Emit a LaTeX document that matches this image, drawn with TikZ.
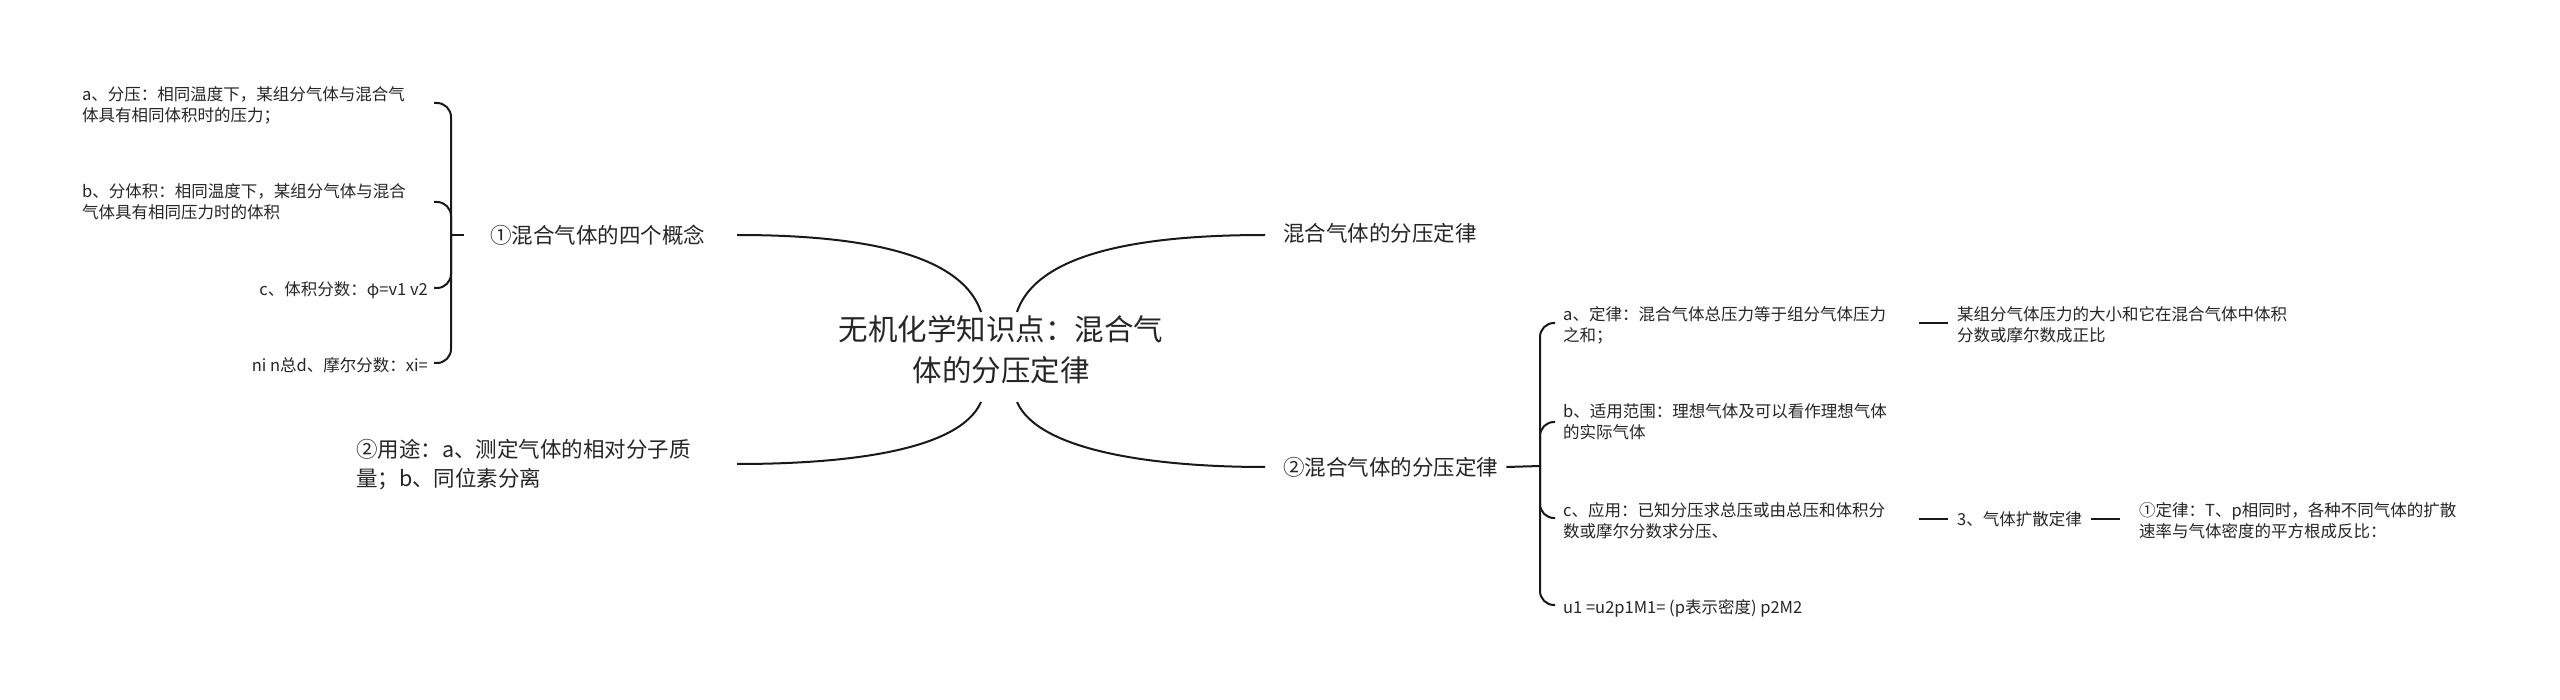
\documentclass[tikz,border=0pt]{standalone}
\usepackage{fontspec}
\setmainfont{Noto Sans CJK SC}
\begin{document}
\begin{tikzpicture}[x=1pt,y=-1pt,
  small/.style={inner sep=0pt,align=left,font=\fontsize{16.5}{21}\selectfont,text=black!85},
  branch/.style={inner sep=0pt,align=left,font=\fontsize{21.5}{29}\selectfont,text=black!85},
  conn/.style={line width=2pt,black!90},
  brk/.style={line width=2pt,black!90,rounded corners=14pt}]
\fill[white] (0,0) rectangle (2560,700);
\useasboundingbox (0,0) rectangle (2560,700);
% center
\node[inner sep=0pt,align=center,font=\fontsize{29.5}{41}\selectfont,text=black!85] (root) at (1001,350) {无机化学知识点：混合气\\体的分压定律};
\coordinate (rl1) at (981,312); \coordinate (rl2) at (981,402);
\coordinate (rr1) at (1017,312); \coordinate (rr2) at (1017,402);
% left branches
\node[branch,anchor=west] (b1) at (490,235) {①混合气体的四个概念};
\node[branch,anchor=west] (b2) at (356,465) {②用途：a、测定气体的相对分子质\\量；b、同位素分离};
\coordinate (b1e) at (737,235); \coordinate (b2e) at (737,464);
\draw[conn] (rl1) .. controls (960,250) and (850,235) .. (b1e);
\draw[conn] (rl2) .. controls (960,450) and (850,464) .. (b2e);
% right branches
\node[branch,anchor=west] (b3) at (1283,233) {混合气体的分压定律};
\node[branch,anchor=west] (b4) at (1283,467) {②混合气体的分压定律};
\coordinate (b3e) at (1265,235); \coordinate (b4e) at (1265,467);
\draw[conn] (rr1) .. controls (1038,250) and (1150,235) .. (b3e);
\draw[conn] (rr2) .. controls (1038,450) and (1150,467) .. (b4e);
% left bracket
\coordinate (ls) at (464,235); \coordinate (lsp) at (451,235);
\draw[conn] (ls) -- (lsp);
\node[small,anchor=west] (la) at (82,105) {a、分压：相同温度下，某组分气体与混合气\\体具有相同体积时的压力；};
\node[small,anchor=west] (lb) at (82,202) {b、分体积：相同温度下，某组分气体与混合\\气体具有相同压力时的体积};
\node[small,anchor=east] (lc) at (428,290) {c、体积分数：φ=v1 v2};
\node[small,anchor=east] (ld) at (428,365) {ni n总d、摩尔分数：xi=};
\coordinate (ta) at (434,103); \coordinate (tb) at (434,202);
\coordinate (tc) at (434,288); \coordinate (td) at (434,363);
\foreach \t in {ta,tb,tc,td} \draw[brk] (lsp) |- (\t);
% right bracket
\coordinate (rsp) at (1540,466);
\draw[conn] (b4.east) ++(8,0) -- (rsp);
\node[small,anchor=west] (ra) at (1563,325) {a、定律：混合气体总压力等于组分气体压力\\之和；};
\node[small,anchor=west] (rb) at (1563,422) {b、适用范围：理想气体及可以看作理想气体\\的实际气体};
\node[small,anchor=west] (rc) at (1563,521) {c、应用：已知分压求总压或由总压和体积分\\数或摩尔分数求分压、};
\node[small,anchor=west] (rd) at (1563,608) {u1 =u2p1M1= (p表示密度) p2M2};
\coordinate (sa) at (1555,323); \coordinate (sb) at (1555,422);
\coordinate (sc) at (1555,518); \coordinate (sd) at (1555,605);
\foreach \t in {sa,sb,sc,sd} \draw[brk] (rsp) |- (\t);
% further
\node[small,anchor=west] (ra2) at (1957,325) {某组分气体压力的大小和它在混合气体中体积\\分数或摩尔数成正比};
\draw[conn] (1919,323) -- (1948,323);
\node[small,anchor=west] (rc2) at (1957,519) {3、气体扩散定律};
\draw[conn] (1919,519) -- (1948,519);
\node[small,anchor=west] (rc3) at (2139,521) {①定律：T、p相同时，各种不同气体的扩散\\速率与气体密度的平方根成反比：};
\draw[conn] (rc2.east) ++(9,0) -- ++(29,0);
\end{tikzpicture}
\end{document}
